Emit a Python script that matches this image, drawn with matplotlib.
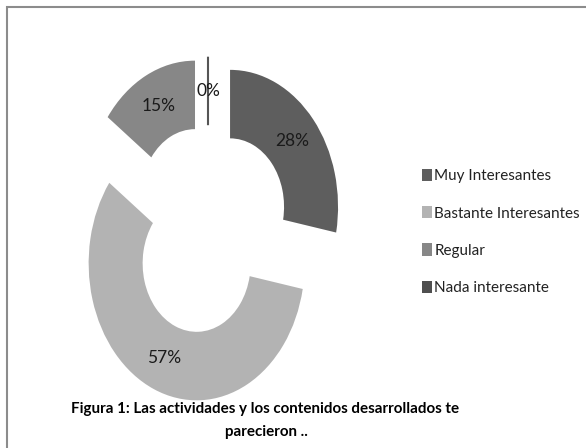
import matplotlib
matplotlib.use('Agg')
import matplotlib.pyplot as plt
from matplotlib.patches import Patch, Rectangle

# Lato is close to Calibri in width
plt.rcParams['font.family'] = ['Lato', 'DejaVu Sans']

# data
labels = ['Muy Interesantes', 'Bastante Interesantes', 'Regular', 'Nada interesante']
values = [28, 57, 15, 0]
colors = ['#5e5e5e', '#b3b3b3', '#878787', '#4f4f4f']
caption_1 = 'Figura 1: Las actividades y los contenidos desarrollados te'
caption_2 = 'parecieron ..'

W, H = 586, 448
fig = plt.figure(figsize=(W / 100, H / 100), dpi=100)
ax = fig.add_axes([0, 0, 1, 1])

wedges, texts, autotexts = ax.pie(values, colors=colors, startangle=90, counterclock=False,
                                  explode=[0.265] * len(values), autopct='%1.0f%%',
                                  pctdistance=0.75, wedgeprops=dict(width=0.5, linewidth=0),
                                  textprops=dict(fontsize=12.5, color='#1a1a1a'))
# zero slice shows only as its border line
wedges[3].set_edgecolor('#555555')
wedges[3].set_linewidth(1.5)

# center of donut at pixel (208, 230), 108 px per unit across, 137 px up
cx, cy, sx, sy = 208, 230, 108, 137
ax.set_aspect('auto')
ax.set_xlim(-cx / sx, (W - cx) / sx)
ax.set_ylim((cy - H) / sy, cy / sy)
ax.axis('off')

handles = [Patch(facecolor=c, edgecolor='none') for c in colors]
fig.legend(handles, labels, loc='center left', bbox_to_anchor=(422 / W, 1 - 232 / H),
           frameon=False, fontsize=11, handlelength=0.65, handleheight=0.85,
           handletextpad=0.15, labelspacing=1.5, borderpad=0, borderaxespad=0,
           labelcolor='#222222')

fig.text(265 / W, 1 - 409 / H, caption_1, ha='center', va='center', fontsize=10.9, weight='bold')
fig.text(266 / W, 1 - 432 / H, caption_2, ha='center', va='center', fontsize=10.9, weight='bold')

# chart border (only left and top edges are visible in the image)
fig.patches.append(Rectangle((7 / W, -0.1), 1.2, 1.1 - 7 / H, transform=fig.transFigure,
                             fill=False, edgecolor='#8c8c8c', linewidth=1.5))

fig.savefig('out.png', dpi=100)
